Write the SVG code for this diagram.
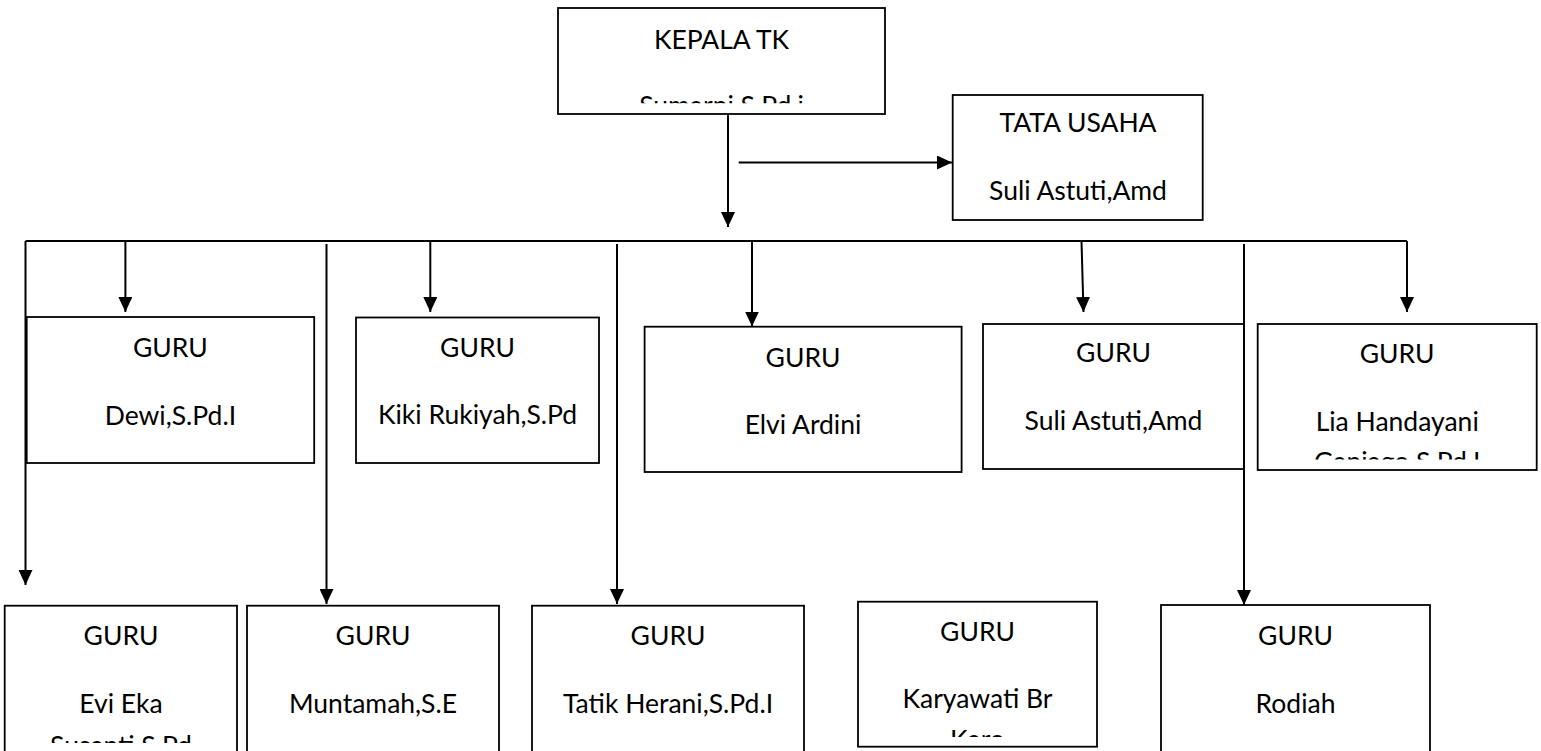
<svg xmlns="http://www.w3.org/2000/svg" width="1541" height="751" viewBox="0 0 1541 751">
<style>
.box{fill:#fff;stroke:#000;stroke-width:1.8}
.t{font-family:Lato,"Open Sans","Liberation Sans",sans-serif;font-size:26.5px;fill:#000;text-anchor:middle}
.c{fill:none;stroke:#000;stroke-width:2}
</style>
<defs>
<marker id="ah" viewBox="0 0 15 14" refX="15" refY="7" markerWidth="15" markerHeight="14" markerUnits="userSpaceOnUse" orient="auto">
<path d="M0,0 L15,7 L0,14 z" fill="#000"/>
</marker>
<clipPath id="cpTop"><rect x="558" y="8" width="327" height="95.3"/></clipPath>
<clipPath id="cpLia"><rect x="1258" y="324" width="279" height="135.5"/></clipPath>
<clipPath id="cpEvi"><rect x="5" y="606" width="232" height="137"/></clipPath>
<clipPath id="cpKar"><rect x="858" y="602" width="239" height="135"/></clipPath>
</defs>
<rect width="1541" height="751" fill="#fff"/>

<g id="kepala">
<rect class="box" x="558" y="8" width="327" height="106"/>
<text class="t" x="721.5" y="49">KEPALA TK</text>
<text class="t" x="721.5" y="114.7" clip-path="url(#cpTop)">Sumarni S.Pd.i</text>
</g>

<g id="tatausaha">
<rect class="box" x="952.7" y="95" width="250" height="125"/>
<text class="t" x="1078" y="131.7">TATA USAHA</text>
<text class="t" x="1078" y="200">Suli Astuti,Amd</text>
</g>

<g id="guru-dewi">
<rect class="box" x="26.7" y="317" width="287.5" height="146"/>
<text class="t" x="170.4" y="357">GURU</text>
<text class="t" x="170.4" y="425">Dewi,S.Pd.I</text>
</g>

<g id="guru-kiki">
<rect class="box" x="356" y="317.5" width="243" height="145.5"/>
<text class="t" x="477.5" y="357">GURU</text>
<text class="t" x="477.5" y="424">Kiki Rukiyah,S.Pd</text>
</g>

<g id="guru-elvi">
<rect class="box" x="644.6" y="326.7" width="317" height="145.3"/>
<text class="t" x="803" y="366.7">GURU</text>
<text class="t" x="803" y="434">Elvi Ardini</text>
</g>

<g id="guru-suli">
<rect class="box" x="983" y="324" width="261" height="145"/>
<text class="t" x="1113.5" y="361.7">GURU</text>
<text class="t" x="1113.5" y="430">Suli Astuti,Amd</text>
</g>

<g id="guru-lia">
<rect class="box" x="1257.7" y="324" width="279" height="146"/>
<text class="t" x="1397.2" y="363">GURU</text>
<text class="t" x="1397.2" y="430.7">Lia Handayani</text>
<text class="t" x="1397.2" y="470.7" clip-path="url(#cpLia)">Ganiago S.Pd.I</text>
</g>

<g id="guru-evi">
<rect class="box" x="4.7" y="605.7" width="232.3" height="150"/>
<text class="t" x="121" y="645">GURU</text>
<text class="t" x="121" y="713">Evi Eka</text>
<text class="t" x="121" y="754.5" clip-path="url(#cpEvi)">Susanti S.Pd</text>
</g>

<g id="guru-muntamah">
<rect class="box" x="247" y="605.7" width="252" height="150"/>
<text class="t" x="373" y="645">GURU</text>
<text class="t" x="373" y="713">Muntamah,S.E</text>
</g>

<g id="guru-tatik">
<rect class="box" x="532" y="605.7" width="272" height="150"/>
<text class="t" x="668" y="645">GURU</text>
<text class="t" x="668" y="713">Tatik Herani,S.Pd.I</text>
</g>

<g id="guru-karyawati">
<rect class="box" x="858" y="601.7" width="239" height="145"/>
<text class="t" x="977.5" y="641">GURU</text>
<text class="t" x="977.5" y="708">Karyawati Br</text>
<text class="t" x="977.5" y="749" clip-path="url(#cpKar)">Karo</text>
</g>

<g id="guru-rodiah">
<rect class="box" x="1161" y="605" width="269" height="150"/>
<text class="t" x="1295.5" y="645">GURU</text>
<text class="t" x="1295.5" y="712.7">Rodiah</text>
</g>

<g id="connectors">
<path class="c" d="M728,114 V227" marker-end="url(#ah)"/>
<path class="c" d="M738.7,162.5 H952" marker-end="url(#ah)"/>
<path class="c" d="M25.5,241 H1407"/>
<path class="c" d="M125.4,241 V312" marker-end="url(#ah)"/>
<path class="c" d="M430.3,241 V312" marker-end="url(#ah)"/>
<path class="c" d="M752,241 V326.5" marker-end="url(#ah)"/>
<path class="c" d="M1081.5,241 L1083.5,312" marker-end="url(#ah)"/>
<path class="c" d="M1407,241 V312" marker-end="url(#ah)"/>
<path class="c" d="M25.5,241 V585" marker-end="url(#ah)"/>
<path class="c" d="M326.5,244 V604" marker-end="url(#ah)"/>
<path class="c" d="M617,244 V604" marker-end="url(#ah)"/>
<path class="c" d="M1244,244 V605" marker-end="url(#ah)"/>
</g>
</svg>
